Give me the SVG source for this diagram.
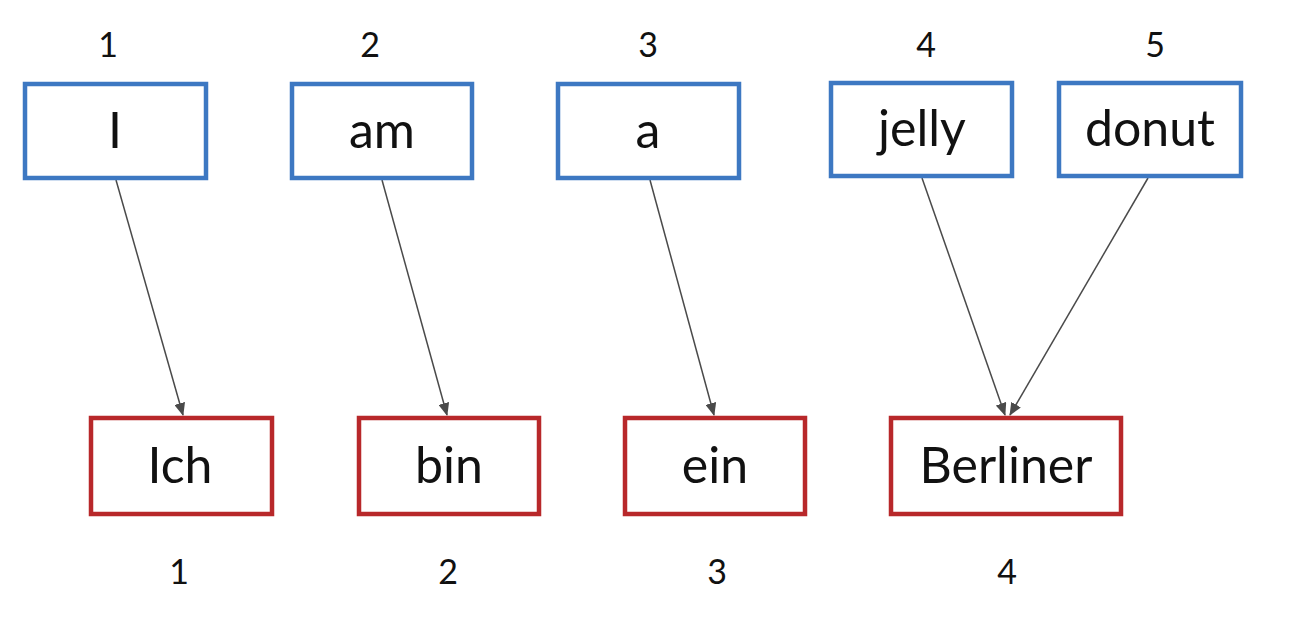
<svg xmlns="http://www.w3.org/2000/svg" width="1299" height="623" viewBox="0 0 1299 623">
<style>
.src{fill:#fff;stroke:#3d78c2;stroke-width:4.5}
.tgt{fill:#fff;stroke:#b8282a;stroke-width:4.5}
.w{font-family:Lato,"Liberation Sans",sans-serif;font-size:50px;fill:#111;text-anchor:middle}
.n{font-family:Lato,"Liberation Sans",sans-serif;font-size:34px;fill:#111;text-anchor:middle}
.c{stroke:#4a4a4a;stroke-width:1.5;fill:none;marker-end:url(#ah)}
</style>
<defs>
<marker id="ah" markerWidth="13" markerHeight="11" refX="12" refY="5.5" orient="auto" markerUnits="userSpaceOnUse" viewBox="0 0 13 11">
<path d="M0,0 L13,5.5 L0,11 z" fill="#4a4a4a"/>
</marker>
</defs>
<rect width="1299" height="623" fill="#fff"/>
<g id="labels">
<text class="n" x="108" y="57">1</text>
<text class="n" x="370" y="57">2</text>
<text class="n" x="648" y="57">3</text>
<text class="n" x="926" y="57">4</text>
<text class="n" x="1155" y="57">5</text>
<text class="n" x="179" y="584">1</text>
<text class="n" x="448" y="584">2</text>
<text class="n" x="717" y="584">3</text>
<text class="n" x="1007" y="584">4</text>
</g>
<g id="connectors">
<line class="c" x1="116" y1="180" x2="183" y2="415"/>
<line class="c" x1="382" y1="180" x2="447" y2="415"/>
<line class="c" x1="650" y1="180" x2="714" y2="415"/>
<line class="c" x1="922" y1="178" x2="1005" y2="415"/>
<line class="c" x1="1148" y1="178" x2="1010" y2="415"/>
</g>
<g id="n-I"><rect class="src" x="25" y="84" width="181" height="94"/><text class="w" x="115" y="148">I</text></g>
<g id="n-am"><rect class="src" x="292" y="84" width="180" height="94"/><text class="w" x="382" y="148">am</text></g>
<g id="n-a"><rect class="src" x="558" y="84" width="181" height="94"/><text class="w" x="648" y="148">a</text></g>
<g id="n-jelly"><rect class="src" x="831" y="83" width="181" height="93"/><text class="w" x="922" y="146">jelly</text></g>
<g id="n-donut"><rect class="src" x="1059" y="83" width="182" height="93"/><text class="w" x="1150" y="146">donut</text></g>
<g id="n-Ich"><rect class="tgt" x="91" y="418" width="181" height="96"/><text class="w" x="180" y="483">Ich</text></g>
<g id="n-bin"><rect class="tgt" x="359" y="418" width="180" height="96"/><text class="w" x="449" y="483">bin</text></g>
<g id="n-ein"><rect class="tgt" x="625" y="418" width="180" height="96"/><text class="w" x="715" y="483">ein</text></g>
<g id="n-Berliner"><rect class="tgt" x="891" y="418" width="230" height="96"/><text class="w" x="1006" y="483">Berliner</text></g>
</svg>
